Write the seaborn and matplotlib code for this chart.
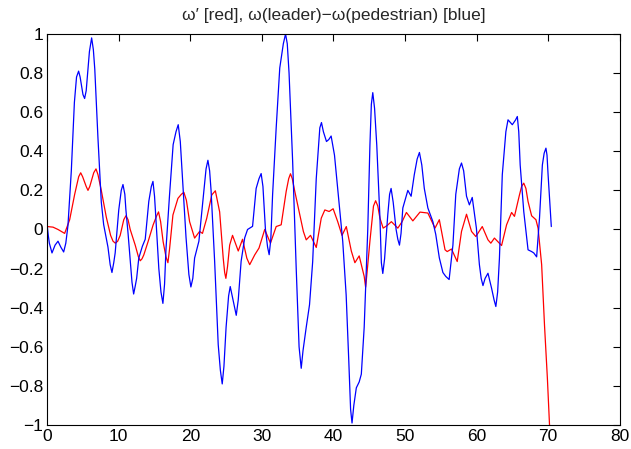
import numpy as np
import pandas as pd
import matplotlib
matplotlib.use('Agg')
import matplotlib.pyplot as plt
import seaborn as sns

# values
blue_t = [0.0, 0.15, 0.3, 0.67, 1.1, 1.51, 1.9, 2.3, 2.6, 2.9, 3.37, 3.8, 4.1, 4.39, 4.6,
          5.0, 5.23, 5.45, 5.7, 5.9, 6.21, 6.45, 6.65, 7.09, 7.56, 7.89, 8.49, 8.8, 9.05,
          9.3, 9.5, 10.0, 10.35, 10.59, 10.85, 11.0, 11.3, 11.7, 11.85, 12.08, 12.3, 12.5,
          12.8, 13.3, 13.7, 14.2, 14.55, 14.78, 15.0, 15.2, 15.6, 15.9, 16.17, 16.4, 16.6,
          17.1, 17.6, 18.0, 18.31, 18.6, 18.9, 19.4, 19.8, 20.08, 20.35, 20.6, 21.2, 21.8,
          22.2, 22.46, 22.7, 22.9, 23.4, 23.9, 24.2, 24.46, 24.7, 25.0, 25.35, 25.58, 25.85,
          26.2, 26.42, 26.7, 27.1, 27.6, 28.0, 28.7, 29.2, 29.6, 29.9, 30.15, 30.5, 30.8,
          31.02, 31.25, 31.5, 32.0, 32.5, 33.0, 33.31, 33.55, 33.8, 34.3, 34.8, 35.2, 35.5,
          35.75, 36.2, 36.66, 37.1, 37.6, 38.1, 38.33, 38.6, 39.03, 39.35, 39.68, 40.15, 40.85,
          41.3, 41.78, 42.15, 42.4, 42.6, 42.85, 43.2, 43.6, 43.9, 44.3, 44.8, 45.1, 45.3,
          45.5, 45.75, 46.06, 46.5, 46.7, 46.9, 47.15, 47.6, 47.85, 48.06, 48.35, 48.76, 49.0,
          49.23, 49.45, 49.7, 50.4, 50.86, 51.3, 51.7, 52.02, 52.35, 52.7, 53.2, 53.9, 54.3,
          54.8, 55.3, 55.7, 56.17, 56.7, 57.1, 57.6, 57.9, 58.2, 58.6, 59.0, 59.4, 59.98, 60.4,
          60.65, 60.9, 61.2, 61.6, 62.1, 62.45, 62.7, 62.95, 63.2, 63.6, 64.1, 64.4, 65.0,
          65.45, 65.7, 65.9, 66.1, 66.6, 67.2, 67.7, 68.0, 68.4, 68.8, 69.2, 69.45, 69.7,
          69.85, 70.0, 70.45]
blue_v = [0.02, -0.03, -0.07, -0.12, -0.08, -0.06, -0.09, -0.115, -0.07, 0.02, 0.30, 0.65,
          0.78, 0.81, 0.78, 0.69, 0.67, 0.71, 0.82, 0.91, 0.98, 0.92, 0.82, 0.47, 0.14, 0.025,
          -0.09, -0.18, -0.22, -0.17, -0.12, 0.10, 0.20, 0.23, 0.18, 0.10, -0.02, -0.20, -0.27,
          -0.33, -0.29, -0.25, -0.146, -0.086, -0.05, 0.144, 0.22, 0.246, 0.17, 0.05, -0.2,
          -0.32, -0.378, -0.28, -0.1, 0.178, 0.434, 0.50, 0.536, 0.45, 0.263, -0.04, -0.23,
          -0.294, -0.25, -0.146, -0.06, 0.16, 0.31, 0.354, 0.30, 0.2, -0.163, -0.589, -0.72,
          -0.79, -0.70, -0.50, -0.34, -0.292, -0.34, -0.40, -0.439, -0.36, -0.163, -0.043,
          0.0, 0.016, 0.21, 0.26, 0.286, 0.22, 0.0, -0.09, -0.129, -0.05, 0.178, 0.519, 0.826,
          0.95, 1.0, 0.95, 0.8, 0.35, -0.2, -0.6, -0.71, -0.62, -0.50, -0.385, -0.165, 0.26,
          0.52, 0.547, 0.50, 0.45, 0.46, 0.478, 0.38, 0.11, -0.06, -0.335, -0.675, -0.92, -0.99,
          -0.90, -0.81, -0.78, -0.74, -0.5, 0.0, 0.43, 0.64, 0.70, 0.62, 0.43, 0.06, -0.17,
          -0.225, -0.15, 0.077, 0.18, 0.21, 0.14, 0.0, -0.05, -0.08, -0.02, 0.11, 0.20, 0.17,
          0.28, 0.36, 0.394, 0.33, 0.21, 0.11, 0.04, -0.025, -0.145, -0.22, -0.24, -0.256,
          -0.08, 0.18, 0.31, 0.34, 0.30, 0.17, 0.126, 0.164, 0.007, -0.18, -0.25, -0.287,
          -0.25, -0.224, -0.3, -0.36, -0.394, -0.32, -0.147, 0.28, 0.50, 0.561, 0.536, 0.56,
          0.578, 0.50, 0.33, 0.092, -0.104, -0.113, -0.12, -0.14, 0.058, 0.33, 0.39, 0.416,
          0.38, 0.28, 0.015]

red_t = [0.0, 0.81, 1.51, 2.44, 3.14, 3.84, 4.4, 4.68, 4.95, 5.45, 5.7, 5.95, 6.5, 6.82, 7.1,
         7.56, 8.26, 8.86, 9.2, 9.52, 9.85, 10.2, 10.7, 11.0, 11.3, 11.6, 12.3, 12.75, 13.0,
         13.25, 13.5, 14.1, 14.8, 15.3, 15.56, 15.85, 16.2, 16.6, 16.87, 17.1, 17.57, 18.27,
         18.75, 19.1, 19.45, 19.9, 20.6, 21.3, 21.7, 22.3, 23.0, 23.5, 24.1, 24.6, 24.8, 24.97,
         25.2, 25.5, 25.9, 26.7, 27.3, 27.9, 28.3, 29.0, 29.6, 30.4, 31.2, 32.0, 32.7, 33.4,
         33.75, 34.0, 34.25, 34.6, 35.3, 35.8, 36.2, 36.8, 37.6, 38.3, 38.8, 39.4, 39.96, 40.6,
         41.2, 41.8, 42.5, 43.0, 43.6, 44.3, 44.5, 44.7, 45.1, 45.6, 45.9, 46.2, 46.5, 46.95,
         47.5, 48.1, 49.0, 49.6, 50.2, 51.1, 52.1, 53.2, 54.2, 54.8, 55.6, 55.9, 56.5, 57.3,
         57.9, 58.6, 59.3, 59.9, 60.8, 61.6, 62.0, 62.5, 63.5, 64.2, 64.9, 65.3, 66.0, 66.3,
         66.6, 66.9, 67.2, 67.7, 68.3, 68.6, 69.1, 69.5, 69.9, 70.45]
red_v = [0.015, 0.012, 0.0, -0.02, 0.05, 0.18, 0.27, 0.29, 0.27, 0.22, 0.20, 0.22, 0.29, 0.31,
         0.28, 0.2, 0.063, -0.03, -0.06, -0.07, -0.06, -0.03, 0.05, 0.07, 0.05, 0.0, -0.08,
         -0.14, -0.16, -0.15, -0.13, -0.062, 0.023, 0.07, 0.09, 0.04, -0.062, -0.14, -0.17,
         -0.1, 0.074, 0.159, 0.18, 0.19, 0.15, 0.04, -0.044, -0.01, -0.02, 0.058, 0.177, 0.198,
         0.09, -0.147, -0.22, -0.25, -0.19, -0.08, -0.03, -0.11, -0.05, -0.147, -0.18, -0.13,
         -0.095, 0.0, -0.07, 0.015, 0.024, 0.195, 0.26, 0.285, 0.26, 0.195, 0.075, -0.01,
         -0.053, -0.03, -0.092, 0.058, 0.1, 0.092, 0.106, 0.04, -0.03, 0.015, -0.11, -0.17,
         -0.135, -0.24, -0.295, -0.22, -0.06, 0.12, 0.147, 0.12, 0.058, 0.007, 0.02, 0.04,
         0.007, 0.04, 0.087, 0.044, 0.089, 0.084, 0.007, 0.05, -0.104, -0.113, -0.1, -0.164,
         -0.01, 0.078, -0.01, -0.036, 0.015, -0.053, -0.07, -0.044, -0.082, 0.024, 0.087, 0.067,
         0.177, 0.22, 0.237, 0.21, 0.143, 0.07, 0.05, 0.007, -0.18, -0.49, -0.76, -1.2]

x_ticks = [0, 10, 20, 30, 40, 50, 60, 70, 80]
y_ticks = [-1, -0.8, -0.6, -0.4, -0.2, 0, 0.2, 0.4, 0.6, 0.8, 1]
y_ticklabels = ['\u22121', '\u22120.8', '\u22120.6', '\u22120.4', '\u22120.2', '0',
                '0.2', '0.4', '0.6', '0.8', '1']
title = '\u03c9\u2032 [red], \u03c9(leader)\u2212\u03c9(pedestrian) [blue]'

sns.set_style('white')
plt.rcParams['font.family'] = ['Liberation Sans', 'DejaVu Sans']

fig, ax = plt.subplots(figsize=(6.31, 4.49), dpi=100)
fig.subplots_adjust(left=0.0748, right=0.982, bottom=0.0535, top=0.9243)

red_df = pd.DataFrame({'t': red_t, 'v': red_v})
blue_df = pd.DataFrame({'t': blue_t, 'v': blue_v})
sns.lineplot(data=red_df, x='t', y='v', color='#ff0000', linewidth=0.9, estimator=None, ax=ax)
sns.lineplot(data=blue_df, x='t', y='v', color='#0000ff', linewidth=0.9, estimator=None, ax=ax)

ax.set_xlim(0, 80)
ax.set_ylim(-1, 1)
ax.set_xticks(x_ticks)
ax.set_xticklabels([str(t) for t in x_ticks])
ax.set_yticks(y_ticks)
ax.set_yticklabels(y_ticklabels)
ax.set_xlabel('')
ax.set_ylabel('')
ax.tick_params(direction='in', length=5, width=0.8, top=True, right=True,
               labelsize=12.5, pad=3, colors='black')
for s in ax.spines.values():
    s.set_color('black')
    s.set_linewidth(0.8)
ax.set_title(title, fontsize=12.5, pad=10)

fig.savefig('out.png', dpi=100)
